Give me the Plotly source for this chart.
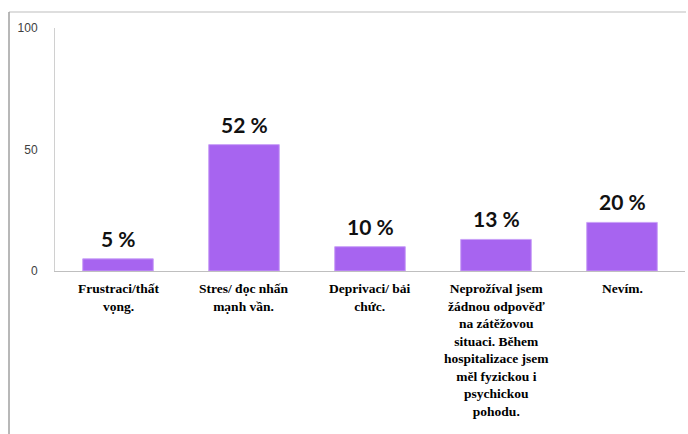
import plotly.graph_objects as go

categories = [
    "Frustraci/thất<br>vọng.",
    "Stres/ đọc nhấn<br>mạnh vần.",
    "Deprivaci/ bải<br>chức.",
    "Neprožíval jsem<br>žádnou odpověď<br>na zátěžovou<br>situaci. Během<br>hospitalizace jsem<br>měl fyzickou i<br>psychickou<br>pohodu.",
    "Nevím.",
]
values = [5, 52, 10, 13, 20]
value_labels = ["5 %", "52 %", "10 %", "13 %", "20 %"]
y_ticks = [0, 50, 100]

x_idx = list(range(len(categories)))

fig = go.Figure()
fig.add_trace(go.Bar(
    x=x_idx,
    y=values,
    width=0.56,
    marker=dict(color="#A764F0", line=dict(color="#C9A0F7", width=1)),
    showlegend=False,
))

L, R, T, B = 55, 3, 28, 163
W, H = 688, 434
pw, ph = W - L - R, H - T - B

def px_to_paper_x(px):
    return (px - L) / pw

def px_to_paper_y(py):
    return (H - B - py) / ph

annotations = []
for xi, v, lab in zip(x_idx, values, value_labels):
    annotations.append(dict(
        x=xi, y=v, xref="x", yref="y", text="<b>" + lab + "</b>",
        showarrow=False, yanchor="bottom", yshift=6,
        font=dict(family="Lato", size=21, color="#111111"),
    ))

for xi, c in zip(x_idx, categories):
    annotations.append(dict(
        x=xi, y=0, xref="x", yref="y",
        text="<b>" + c.replace("<br>", "</b><br><b>") + "</b>",
        showarrow=False, yanchor="top", yshift=-8, align="center",
        font=dict(family="Times New Roman", size=13.5, color="#000000"),
    ))

fig.update_layout(
    width=W, height=H,
    margin=dict(l=L, r=R, t=T, b=B),
    paper_bgcolor="white",
    plot_bgcolor="white",
    annotations=annotations,
    xaxis=dict(
        range=[-0.5, len(categories) - 0.5],
        showline=True, linecolor="#BFBFBF", linewidth=1,
        showgrid=False, zeroline=False, ticks="", showticklabels=False,
    ),
    yaxis=dict(
        range=[0, 100],
        tickvals=y_ticks,
        showline=True, linecolor="#D0D0D0", linewidth=1,
        showgrid=False, zeroline=False, ticks="",
        tickfont=dict(family="Liberation Sans", size=12, color="#404040"),
        ticklabelstandoff=14,
    ),
    shapes=[
        dict(type="line", xref="paper", yref="paper",
             x0=px_to_paper_x(9), x1=px_to_paper_x(686),
             y0=px_to_paper_y(12), y1=px_to_paper_y(12),
             line=dict(color="#BDBDBD", width=1)),
        dict(type="line", xref="paper", yref="paper",
             x0=px_to_paper_x(9), x1=px_to_paper_x(9),
             y0=px_to_paper_y(12), y1=px_to_paper_y(434),
             line=dict(color="#A0A0A0", width=1.5)),
    ],
)

fig.write_html("out.html")
